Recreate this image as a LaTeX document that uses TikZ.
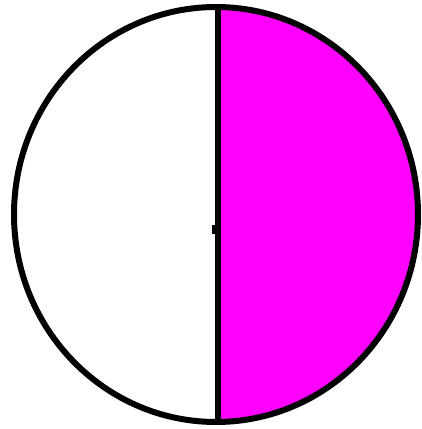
\documentclass[tikz,border=0pt]{standalone}
\usepackage{xcolor}
\usepackage{tikz}
\definecolor{halfpink}{HTML}{FF00FF}
\tikzset{
  rim/.style={draw=black,line width=6pt},
  divider/.style={draw=black,line width=6pt},
  halffill/.style={fill=halfpink},
}

\begin{document}
\begin{tikzpicture}[x=1pt,y=1pt]
\useasboundingbox[fill=white] (0,0) rectangle (422,429);
\coordinate (c) at (216,214.5);
\coordinate (top) at (218,422);
\coordinate (bot) at (218,7);
% right half filled
\begin{scope}
\clip (218,0) rectangle (422,429);
\fill[halffill] (c) ellipse [x radius=202, y radius=207.5];
\end{scope}
\draw[rim] (c) ellipse [x radius=202, y radius=207.5];
\draw[divider] (top)--(bot);
\fill[black] (212,195) rectangle (215,204);
\end{tikzpicture}
\end{document}
